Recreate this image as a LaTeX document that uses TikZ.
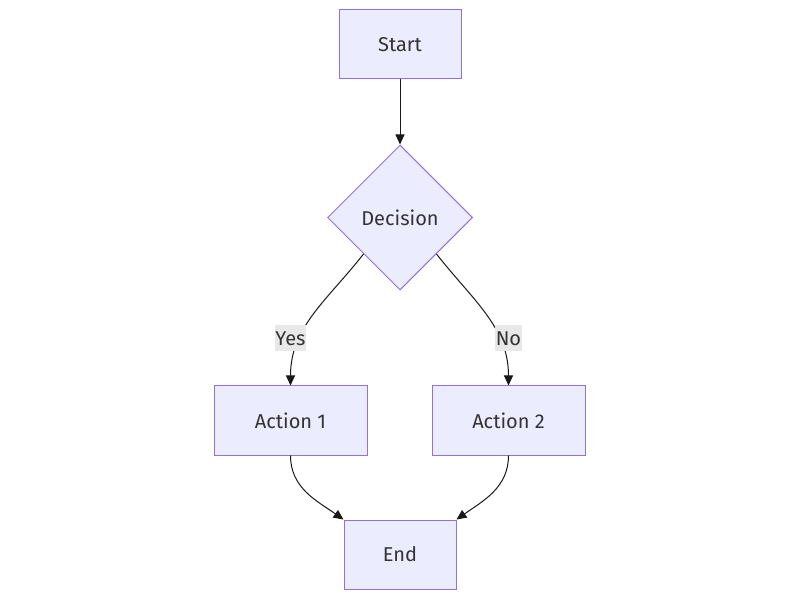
\documentclass[tikz,border=0pt]{standalone}
\usepackage{fontspec}
\setmainfont{Fira Sans}
\usepackage{tikz}
\usetikzlibrary{arrows.meta}
\usetikzlibrary{shapes.geometric}
\usetikzlibrary{positioning}
\usepackage{xcolor}
\definecolor{mmfill}{HTML}{ECECFF}
\definecolor{mmline}{HTML}{9370DB}
\definecolor{mmtext}{HTML}{333333}
\definecolor{mmlabel}{HTML}{E8E8E8}

\begin{document}
\begin{tikzpicture}[
    x=1pt, y=1pt,
    every node/.style={font=\fontsize{20pt}{24pt}\selectfont, text=mmtext},
    box/.style={rectangle,draw=mmline,fill=mmfill,line width=1pt,inner sep=0pt,minimum height=69pt},
    decision/.style={diamond,draw=mmline,fill=mmfill,line width=1pt,inner sep=0pt,aspect=1,minimum width=145pt,minimum height=145pt},
    lbl/.style={fill=mmlabel,inner xsep=0.5pt,inner ysep=0pt,minimum height=26pt},
    edge/.style={draw=black!90,line width=1pt,-{Triangle[length=10pt,width=9pt]}}
    ]
    \useasboundingbox (0,0) rectangle (800,600);

    \node[box, minimum width=122pt] (start) at (400,555.5) {Start};
    \node[decision] (dec) [below=65pt of start] {Decision};
    \node[box, minimum width=153pt] (act1) [below=95pt of dec, xshift=-109.5pt] {Action 1};
    \node[box, minimum width=153pt] (act2) [below=95pt of dec, xshift=108.5pt] {Action 2};
    \node[box, minimum width=112pt] (end) [below=64pt of act1, xshift=109.5pt] {End};

    \draw[edge] (start) -- (dec);
    \draw[edge] (dec.south west) to[out=-128,in=90] (act1.north);
    \draw[edge] (dec.south east) to[out=-52,in=90] (act2.north);
    \draw[edge] (act1.south) to[out=-90,in=145] (end.north west);
    \draw[edge] (act2.south) to[out=-90,in=35] (end.north east);

    \node[lbl] (yes) [above=34pt of act1] {Yes};
    \node[lbl] (no) [above=34pt of act2] {No};

  \end{tikzpicture}
\end{document}
